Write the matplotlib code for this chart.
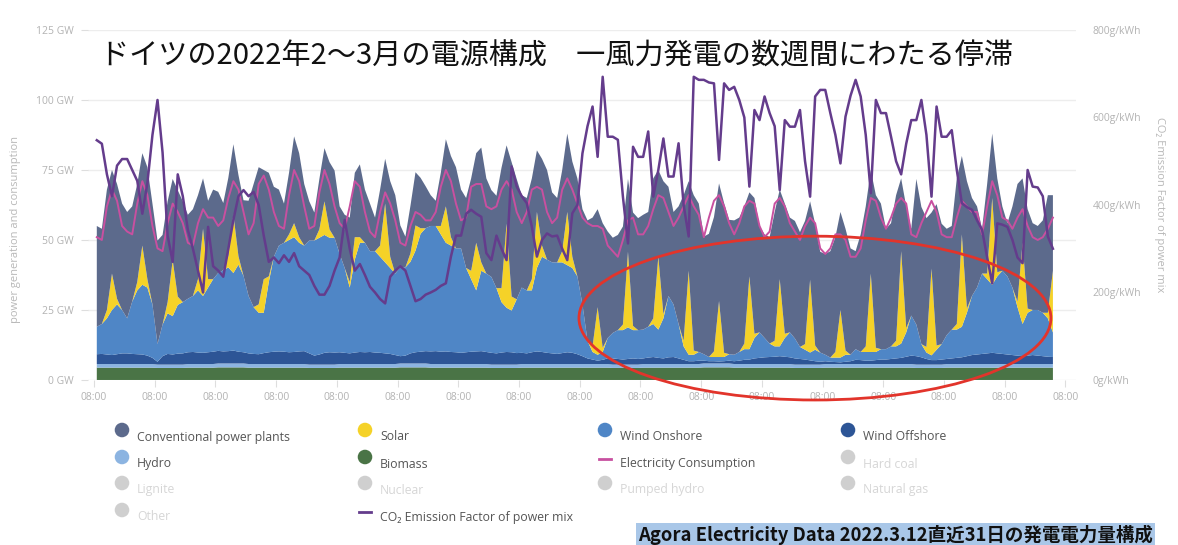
import numpy as np
import matplotlib.pyplot as plt
from matplotlib.patches import Ellipse

plt.rcParams['font.family'] = ['Open Sans', 'DejaVu Sans']
JP = ['Noto Sans CJK JP', 'DejaVu Sans']

# Agora Energiewende, Germany, last 31 days before 2022-03-12
# every 4 hours (6 samples a day), GW
biomass_daily = [4.4, 4.4, 4.3, 4.4, 4.5, 4.4, 4.4, 4.3, 4.4, 4.4, 4.5, 4.4, 4.4, 4.3, 4.4, 4.4,
                 4.4, 4.3, 4.4, 4.4, 4.5, 4.4, 4.4, 4.3, 4.4, 4.4, 4.4, 4.3, 4.4, 4.4, 4.4, 4.4]
hydro_daily = [1.3, 1.3, 1.2, 1.3, 1.4, 1.3, 1.3, 1.2, 1.3, 1.3, 1.4, 1.3, 1.3, 1.2, 1.3, 1.3,
               1.3, 1.2, 1.3, 1.3, 1.4, 1.3, 1.3, 1.2, 1.3, 1.3, 1.3, 1.2, 1.3, 1.3, 1.3, 1.3]

wind_offshore = [
    3.5, 3.6, 3.4, 3.2, 3.5, 3.8,
    3.8, 3.6, 3.5, 3.4, 3.0, 2.2,
    1.0, 3.0, 3.8, 3.6, 3.9, 4.0,
    4.2, 4.3, 4.1, 4.0, 4.2, 4.4,
    4.5, 4.3, 4.4, 4.6, 4.2, 4.0,
    3.8, 3.6, 3.5, 3.9, 4.2, 4.4,
    4.5, 4.4, 4.2, 4.3, 4.5, 4.6,
    4.0, 3.2, 3.6, 4.2, 4.4, 4.3,
    4.2, 4.0, 3.8, 4.1, 4.3, 4.2,
    4.3, 4.1, 4.0, 3.8, 3.6, 3.2,
    2.6, 2.8, 3.6, 4.0, 4.2, 4.4,
    4.5, 4.6, 4.4, 4.5, 4.3, 4.2,
    4.0, 4.2, 4.4, 4.5, 4.6, 4.3,
    4.2, 4.0, 4.3, 4.5, 4.4, 4.1,
    4.0, 3.8, 4.2, 4.5, 4.3, 4.0,
    3.8, 3.6, 3.9, 4.2, 4.0, 3.5,
    2.8, 2.0, 1.6, 1.2, 1.5, 2.0,
    2.2, 2.0, 1.8, 2.0, 2.2, 2.0,
    2.0, 2.3, 2.5, 2.2, 2.0, 2.4,
    2.5, 2.0, 1.5, 1.0, 1.0, 1.2,
    1.0, 0.8, 0.8, 0.7, 0.8, 1.0,
    1.0, 1.2, 1.5, 1.6, 2.0, 2.2,
    2.4, 2.5, 2.6, 2.8, 2.6, 2.4,
    2.2, 2.0, 1.8, 1.5, 1.2, 1.0,
    1.0, 0.8, 0.7, 0.6, 0.8, 1.0,
    1.5, 1.4, 1.2, 1.2, 1.4, 1.6,
    1.6, 1.8, 2.0, 2.2, 2.6, 3.0,
    3.0, 2.6, 2.0, 1.6, 1.6, 1.8,
    1.8, 2.0, 2.2, 2.4, 2.8, 3.2,
    3.4, 3.6, 3.8, 4.0, 3.8, 3.6,
    3.4, 3.2, 3.0, 2.8, 3.0, 3.2,
    3.0, 2.8, 2.6, 2.5,
]

wind_onshore = [
    9.8, 10.7, 12.9, 16.1, 17.8, 15.5,
    12.5, 18.7, 22.8, 24.9, 24.3, 19.1,
    6.3, 11.3, 14.5, 13.7, 17.4, 18.3,
    19.1, 20.0, 22.2, 20.3, 23.1, 25.9,
    27.8, 29.0, 29.9, 27.7, 31.1, 27.3,
    20.5, 16.7, 14.8, 14.4, 25.1, 33.9,
    37.8, 38.9, 40.1, 41.0, 38.8, 37.7,
    40.3, 41.1, 41.7, 42.1, 40.9, 41.0,
    35.1, 30.3, 23.5, 33.2, 39.0, 39.1,
    36.0, 36.2, 34.3, 32.5, 30.7, 29.1,
    31.7, 31.5, 32.7, 36.3, 42.1, 43.9,
    44.8, 44.7, 41.9, 38.8, 38.0, 37.1,
    37.3, 30.1, 25.9, 21.8, 28.7, 28.0,
    27.1, 23.3, 18.0, 15.8, 14.9, 19.2,
    23.3, 22.5, 22.1, 29.8, 34.0, 33.3,
    32.5, 32.7, 32.4, 31.1, 30.3, 27.8,
    18.5, 6.3, 2.7, 2.1, 2.8, 7.3,
    9.1, 10.3, 10.5, 11.3, 10.1, 10.3,
    10.3, 11.0, 11.8, 10.1, 14.3, 21.9,
    18.8, 12.3, 4.8, 2.3, 2.3, 3.1,
    2.3, 1.5, 1.5, 1.6, 1.5, 2.3,
    2.3, 3.1, 3.8, 3.7, 7.3, 9.1,
    6.9, 4.8, 3.7, 3.5, 6.7, 8.9,
    7.1, 4.3, 3.5, 2.8, 4.1, 3.3,
    2.3, 1.5, 1.6, 1.7, 2.5, 2.3,
    3.8, 2.9, 3.1, 3.1, 2.9, 3.7,
    3.7, 4.5, 4.3, 5.1, 8.7, 14.3,
    11.3, 4.7, 2.3, 1.7, 3.7, 5.5,
    8.5, 10.3, 10.1, 10.9, 15.5, 21.1,
    23.9, 28.7, 26.5, 24.3, 27.5, 29.7,
    27.9, 24.1, 17.3, 11.5, 15.3, 16.1,
    16.3, 15.5, 13.7, 8.8,
]

solar = [
    0, 0, 3, 13, 2, 0,
    0, 0, 3, 14, 3, 0,
    0, 0, 4, 20, 3, 0,
    0, 0, 4, 24, 3, 0,
    0, 0, 4, 21, 3, 0,
    0, 0, 3, 12, 2, 0,
    0, 0, 2, 5, 2, 0,
    0, 0, 3, 12, 3, 0,
    0, 0, 2, 8, 2, 0,
    0, 0, 4, 21, 4, 0,
    0, 0, 3, 9, 2, 0,
    0, 0, 3, 13, 3, 0,
    0, 0, 3, 17, 3, 0,
    0, 0, 5, 30, 5, 0,
    0, 0, 4, 20, 4, 0,
    0, 0, 4, 19, 4, 0,
    0, 0, 2, 17, 1.5, 0,
    0, 0, 2, 27, 1.5, 0,
    0, 0, 2, 26, 1.5, 0,
    0, 0, 2, 30, 1.5, 0,
    0, 0, 2, 20, 1.5, 0,
    0, 0, 2, 26, 1.5, 0,
    0, 0, 2, 24, 1.5, 0,
    0, 0, 2, 26, 1.5, 0,
    0, 0, 2, 17, 1.5, 0,
    0, 0, 2, 28, 1.5, 0,
    0, 0, 2, 33, 1.5, 0,
    0, 0, 2, 31, 1.5, 0,
    0, 0, 2, 33, 1.5, 0,
    0, 0, 2, 31, 1.5, 0,
    0, 0, 2, 29, 1.5, 0,
    0, 0, 2, 22,
]

conventional = [
    36, 34, 43, 37, 41, 38,
    38, 34, 35, 33, 40, 36,
    37, 32, 36, 29, 38, 36,
    30, 31, 30, 18, 28, 32,
    29, 24, 28, 25, 29, 27,
    34, 44, 49, 39, 37, 25,
    20, 14, 22, 31, 30, 22,
    14, 10, 18, 19, 24, 24,
    17, 19, 23, 23, 26, 19,
    17, 12, 20, 16, 27, 28,
    15, 11, 17, 19, 18, 15,
    11, 9, 19, 24, 29, 29,
    21, 25, 33, 32, 41, 34,
    31, 33, 43, 28, 48, 43,
    33, 33, 36, 22, 31, 32,
    25, 23, 29, 28, 34, 35,
    34, 43, 46, 35, 44.5, 38,
    34, 34, 35, 26, 40.5, 40,
    41, 41, 50, 31, 47.5, 39,
    33, 42, 52, 32, 55.5, 53,
    42, 44, 48, 42, 53.5, 48,
    48, 48, 49, 30, 48.5, 38,
    37, 38, 46, 32, 46.5, 41,
    42, 41, 44, 28, 43.5, 36,
    36, 38, 41, 35, 43.5, 38,
    35, 42, 50, 37, 54.5, 52,
    43, 44, 52, 26, 43.5, 31,
    52, 49, 46, 20, 50.5, 43,
    38, 37, 52, 28, 45.5, 35,
    29, 16, 32, 23, 33.5, 23,
    19, 29, 42, 23, 35.5, 31,
    30, 33, 42, 27,
]

consumption = [
    51, 50, 62, 68, 64, 55,
    53, 52, 63, 71, 66, 55,
    47, 46, 56, 63, 60, 56,
    49, 48, 56, 61, 58, 58,
    55, 57, 65, 71, 68, 60,
    52, 56, 70, 73, 68, 60,
    55, 54, 66, 75, 71, 62,
    54, 55, 67, 75, 70, 62,
    56, 54, 62, 71, 69, 60,
    53, 51, 60, 67, 63, 57,
    49, 48, 55, 60, 59, 57,
    57, 60, 69, 75, 71, 63,
    57, 58, 69, 70, 70, 62,
    61, 62, 68, 71, 68, 60,
    56, 60, 68, 69, 68, 60,
    56, 58, 68, 72, 68, 63,
    58, 56, 55, 55, 54, 48,
    46, 44, 50, 57, 58, 52,
    52, 55, 61, 66, 65, 60,
    55, 58, 62, 66, 62, 59,
    51, 58, 64, 66, 62, 56,
    52, 56, 62, 64, 63, 55,
    51, 53, 63, 65, 62, 56,
    53, 50, 55, 58, 56, 47,
    45, 47, 52, 52, 50, 44,
    44, 47, 57, 65, 64, 58,
    54, 58, 63, 65, 63, 52,
    51, 56, 60, 64, 60, 52,
    51, 51, 58, 64, 62, 60,
    60, 52, 62, 71, 66, 58,
    57, 54, 58, 61, 55, 51,
    50, 51, 54, 58,
]

# g/kWh
co2_factor = [
    548, 540, 470, 420, 490, 505,
    505, 480, 455, 380, 450, 560,
    640, 520, 330, 270, 470, 420,
    343, 300, 250, 200, 350, 260,
    250, 236, 300, 366, 420, 434,
    420, 430, 400, 330, 270, 280,
    267, 285, 270, 290, 260, 250,
    240, 215, 195, 195, 215, 250,
    280, 366, 300, 250, 265, 240,
    213, 200, 185, 175, 236, 250,
    260, 250, 215, 180, 185, 195,
    200, 206, 215, 221, 282, 330,
    330, 380, 389, 380, 373, 290,
    274, 330, 300, 274, 488, 442,
    420, 404, 350, 282, 320, 335,
    328, 330, 300, 274, 381, 400,
    518, 580, 625, 510, 693, 556,
    556, 549, 419, 312, 533, 510,
    510, 568, 419, 480, 552, 465,
    465, 541, 400, 328, 693, 686,
    686, 680, 678, 503, 678, 663,
    670, 640, 600, 442, 617, 594,
    648, 610, 580, 434, 594, 579,
    579, 617, 500, 419, 648, 663,
    663, 610, 560, 495, 602, 650,
    686, 648, 560, 427, 640, 610,
    610, 556, 500, 470, 540, 594,
    594, 640, 560, 419, 625, 556,
    556, 571, 480, 404, 395, 389,
    365, 343, 280, 221, 358, 355,
    350, 320, 280, 267, 480, 442,
    440, 420, 328, 300,
]

gw_ticks = [0, 25, 50, 75, 100, 125]
co2_ticks = [0, 200, 400, 600, 800]
n = len(solar)
days = np.arange(n) / 6.0
biomass = np.repeat(biomass_daily, 6)[:n]
hydro = np.repeat(hydro_daily, 6)[:n]

c_conv = '#5c6a8c'
c_hydro = '#8cb4e1'
c_solar = '#f5d228'
c_bio = '#4a7446'
c_on = '#4f86c6'
c_off = '#2d5596'
c_cons = '#c850a0'
c_co2 = '#643c8c'
c_off_lbl = '#cfcfcf'

fig = plt.figure(figsize=(11.78, 5.45), dpi=100)
ax = fig.add_axes([0.0747, 0.3028, 0.8387, 0.6422])
ax.stackplot(days, biomass, hydro, wind_offshore, wind_onshore, solar, conventional,
             colors=[c_bio, c_hydro, c_off, c_on, c_solar, c_conv], linewidth=0)
ax.plot(days, consumption, color=c_cons, lw=1.4)

ax.set_xlim(-0.29, 32.26)
ax.set_ylim(0, 125)
ax.set_yticks(gw_ticks)
ax.set_yticklabels([f'{v} GW' for v in gw_ticks])
ax.set_xticks([-0.09 + 2 * k for k in range(17)])
ax.set_xticklabels(['08:00'] * 17)
ax.tick_params(axis='both', colors='#dedede', labelcolor='#b3b3b3', labelsize=7.5, length=5)
ax.tick_params(axis='y', pad=5)
ax.tick_params(axis='x', pad=4)
ax.grid(axis='y', color='#ededed', lw=1)
ax.set_axisbelow(True)
for s in ax.spines.values():
    s.set_visible(False)
ax.set_ylabel('power generation and consumption', color='#b8b8b8', fontsize=8)
ax.yaxis.set_label_coords(-0.068, 0.43)

ax2 = ax.twinx()
ax2.plot(days, co2_factor, color=c_co2, lw=1.8)
ax2.set_ylim(0, 800)
ax2.set_yticks(co2_ticks)
ax2.set_yticklabels([f'{v}g/kWh' for v in co2_ticks])
ax2.tick_params(axis='y', length=0, pad=12, labelcolor='#b3b3b3', labelsize=7.5)
for s in ax2.spines.values():
    s.set_visible(False)
ax2.set_ylabel('CO\u2082 Emission Factor of power mix', color='#b8b8b8', fontsize=8,
               rotation=270, labelpad=12)
ax2.yaxis.set_label_coords(1.09, 0.5)

# red highlight ellipse over the windless weeks
ell = Ellipse((23.66, 22.1), 15.55, 58.5, fill=False, edgecolor='#e2342b', lw=2.0,
              clip_on=False, zorder=10)
ax2.add_patch(ell)
ell.set_transform(ax.transData)

fig.text(100 / 1178, 1 - 57 / 545, 'ドイツの2022年2～3月の電源構成\u3000一風力発電の数週間にわたる停滞',
         fontsize=21, family=JP, color='#111111', va='center', ha='left')

# legend drawn in pixel coordinates on an overlay
lg = fig.add_axes([0, 0, 1, 1])
lg.set_xlim(0, 1178)
lg.set_ylim(545, 0)
lg.axis('off')
legend_items = [
    (122, 430, 'Conventional power plants', c_conv, 'dot'),
    (122, 457, 'Hydro', c_hydro, 'dot'),
    (122, 483, 'Lignite', None, 'dot'),
    (122, 510, 'Other', None, 'dot'),
    (365, 430, 'Solar', c_solar, 'dot'),
    (365, 457, 'Biomass', c_bio, 'dot'),
    (365, 483, 'Nuclear', None, 'dot'),
    (365, 510, 'CO\u2082 Emission Factor of power mix', c_co2, 'line'),
    (605, 430, 'Wind Onshore', c_on, 'dot'),
    (605, 457, 'Electricity Consumption', c_cons, 'line'),
    (605, 483, 'Pumped hydro', None, 'dot'),
    (848, 430, 'Wind Offshore', c_off, 'dot'),
    (848, 457, 'Hard coal', None, 'dot'),
    (848, 483, 'Natural gas', None, 'dot'),
]
for x, y, label, col, kind in legend_items:
    active = col is not None
    mc = col if active else c_off_lbl
    if kind == 'dot':
        lg.scatter([x], [y], s=110, color=mc, edgecolors='none')
    else:
        lg.plot([x - 6, x + 6], [y + 2, y + 2], color=mc, lw=2)
    lg.text(x + 15, y + 7, label, fontsize=8.8, va='center', ha='left',
            color='#555555' if active else '#d6d6d6')

fig.text(638 / 1178, 1 - 535 / 545, 'Agora Electricity Data 2022.3.12直近31日の発電電力量構成',
         fontsize=13.3, family=JP, fontweight='bold', color='#111111', va='center', ha='left',
         bbox=dict(facecolor='#a9c7e8', edgecolor='none', pad=1.5))

fig.savefig('out.png', dpi=100)
